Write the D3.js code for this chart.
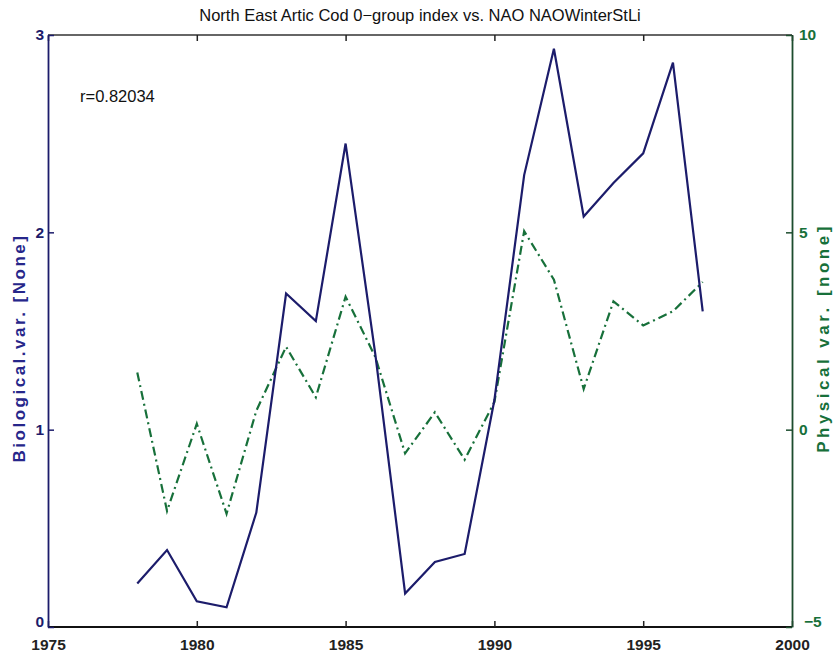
<!DOCTYPE html>
<html>
<head>
<meta charset="utf-8">
<script src="https://cdn.jsdelivr.net/npm/d3@7"></script>
<style>
  html, body { margin: 0; padding: 0; background: #fff; }
  svg { display: block; font-family: "Liberation Sans", Arial, Helvetica, sans-serif; }
</style>
</head>
<body>
<svg id="chart" width="840" height="656"></svg>
<script>
// Years covered by both series
const years = [1978, 1979, 1980, 1981, 1982, 1983, 1984, 1985, 1986, 1987,
               1988, 1989, 1990, 1991, 1992, 1993, 1994, 1995, 1996, 1997];

// North East Arctic cod 0-group index (left axis)
const bioValues = [0.22, 0.39, 0.13, 0.10, 0.58, 1.69, 1.55, 2.45, 1.38, 0.17,
                   0.33, 0.37, 1.15, 2.29, 2.93, 2.08, 2.25, 2.40, 2.86, 1.60];

// NAO winter index, Stykkisholmur-Lisbon (right axis)
const physValues = [1.45, -2.06, 0.15, -2.13, 0.48, 2.10, 0.82, 3.37, 1.84, -0.60,
                    0.44, -0.76, 0.70, 5.03, 3.80, 1.03, 3.25, 2.64, 3.00, 3.74];

const xTicks = [1975, 1980, 1985, 1990, 1995, 2000];
const yLeftTicks = [0, 1, 2, 3];
const yRightTicks = [-5, 0, 5, 10];

const title = "North East Artic Cod 0\u2212group index vs. NAO NAOWinterStLi";
const corrLabel = "r=0.82034";
const leftLabel = "Biological.var. [None]";
const rightLabel = "Physical var. [none]";

const navy = "#1c1c6b";
const green = "#17703a";

const svg = d3.select("#chart");
const m = { left: 48, right: 792, top: 35, bottom: 627 };

const x = d3.scaleLinear().domain([1975, 2000]).range([m.left, m.right]);
const yL = d3.scaleLinear().domain([0, 3]).range([m.bottom, m.top]);
const yR = d3.scaleLinear().domain([-5, 10]).range([m.bottom, m.top]);

// Data lines
svg.append("path")
  .datum(years.map((yr, i) => [yr, physValues[i]]))
  .attr("fill", "none")
  .attr("stroke", green)
  .attr("stroke-width", 2.2)
  .attr("stroke-dasharray", "9,4,2,4")
  .attr("d", d3.line().x(d => x(d[0])).y(d => yR(d[1])));

svg.append("path")
  .datum(years.map((yr, i) => [yr, bioValues[i]]))
  .attr("fill", "none")
  .attr("stroke", navy)
  .attr("stroke-width", 2.2)
  .attr("stroke-linejoin", "miter")
  .attr("d", d3.line().x(d => x(d[0])).y(d => yL(d[1])));

// Frame
svg.append("line").attr("x1", m.left).attr("x2", m.right).attr("y1", m.top).attr("y2", m.top)
  .attr("stroke", "#333").attr("stroke-width", 1.5);
svg.append("line").attr("x1", m.left).attr("x2", m.right).attr("y1", m.bottom).attr("y2", m.bottom)
  .attr("stroke", "#111").attr("stroke-width", 1.8);

// Bottom and top x axes with inward ticks
const xBottom = svg.append("g").attr("transform", `translate(0,${m.bottom})`)
  .call(d3.axisBottom(x).tickValues(xTicks).tickFormat(d3.format("d")).tickSizeInner(-6).tickSizeOuter(0).tickPadding(12));
const xTop = svg.append("g").attr("transform", `translate(0,${m.top})`)
  .call(d3.axisTop(x).tickValues(xTicks).tickFormat("").tickSizeInner(-6).tickSizeOuter(0));
[xBottom, xTop].forEach(g => {
  g.select(".domain").remove();
  g.selectAll(".tick line").attr("stroke", "#222").attr("stroke-width", 1.5);
});
xBottom.selectAll(".tick text")
  .attr("font-size", 15.5).attr("font-weight", "bold").attr("fill", "#222")
  .attr("font-family", "'Liberation Sans', Arial, sans-serif");

// Left axis
const yLeft = svg.append("g").attr("transform", `translate(${m.left},0)`)
  .call(d3.axisLeft(yL).tickValues(yLeftTicks).tickFormat(d3.format("d")).tickSizeInner(-6).tickSizeOuter(0).tickPadding(4));
yLeft.select(".domain").attr("stroke", navy).attr("stroke-width", 1.8);
yLeft.selectAll(".tick line").attr("stroke", navy).attr("stroke-width", 1.5);
yLeft.selectAll(".tick text")
  .attr("font-size", 15.5).attr("font-weight", "bold").attr("fill", navy)
  .attr("font-family", "'Liberation Sans', Arial, sans-serif");
yLeft.selectAll(".tick").filter(d => d === 0).select("text").attr("dy", "-0.05em");

// Right axis
const yRight = svg.append("g").attr("transform", `translate(${m.right},0)`)
  .call(d3.axisRight(yR).tickValues(yRightTicks).tickFormat(d3.format("d")).tickSizeInner(-6).tickSizeOuter(0).tickPadding(7));
yRight.select(".domain").attr("stroke", "#1d4d2e").attr("stroke-width", 1.8);
yRight.selectAll(".tick line").attr("stroke", "#1d4d2e").attr("stroke-width", 1.5);
yRight.selectAll(".tick text")
  .attr("font-size", 15.5).attr("font-weight", "bold").attr("fill", green)
  .attr("font-family", "'Liberation Sans', Arial, sans-serif");
yRight.selectAll(".tick").filter(d => d === -5).select("text")
  .attr("x", 12).attr("dy", "-0.05em").text("\u22125");

// Title
svg.append("text")
  .attr("x", 420).attr("y", 21)
  .attr("text-anchor", "middle")
  .attr("font-size", 16.5).attr("fill", "#111")
  .text(title);

// Correlation annotation
svg.append("text")
  .attr("x", 80).attr("y", 102)
  .attr("font-size", 16.5).attr("fill", "#111")
  .text(corrLabel);

// Axis titles
svg.append("text")
  .attr("transform", `translate(25,348) rotate(-90)`)
  .attr("text-anchor", "middle")
  .attr("font-size", 17).attr("font-weight", "bold").attr("fill", "#26268a")
  .attr("letter-spacing", 2.5)
  .text(leftLabel);

svg.append("text")
  .attr("transform", `translate(829,338) rotate(-90)`)
  .attr("text-anchor", "middle")
  .attr("font-size", 17).attr("font-weight", "bold").attr("fill", green)
  .attr("letter-spacing", 3.5)
  .text(rightLabel);
</script>
</body>
</html>
